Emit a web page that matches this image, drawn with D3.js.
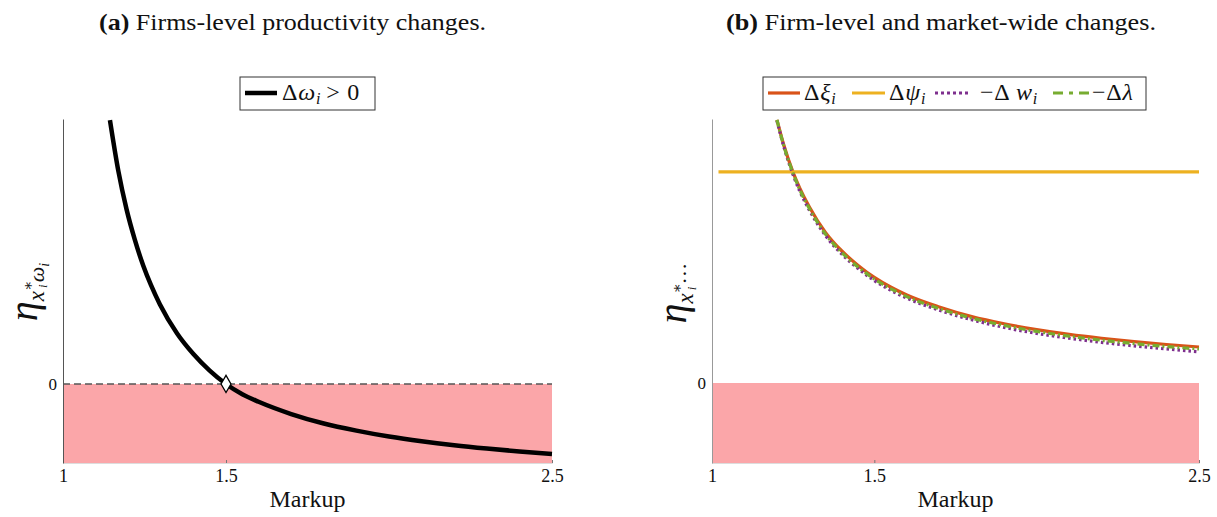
<!DOCTYPE html>
<html>
<head>
<meta charset="utf-8">
<script src="https://cdn.jsdelivr.net/npm/d3@7/dist/d3.min.js"></script>
<style>
  body { margin: 0; background: #fff; }
  text { font-family: "Liberation Serif", "DejaVu Serif", serif; fill: #111; }
</style>
</head>
<body>
<script>
// ---- data ----
const markupTicks = [1, 1.5, 2.5];
const markupTickLabels = ["1", "1.5", "2.5"];

// panel (a): elasticity wrt productivity
const omegaMarkup = [1.144, 1.17, 1.195, 1.22, 1.246, 1.27, 1.297, 1.35, 1.40, 1.45, 1.50,
                     1.55, 1.60, 1.70, 1.80, 1.90, 2.00, 2.10, 2.20, 2.30, 2.40, 2.50];
const omegaEta = [3.34, 2.69, 2.21, 1.83, 1.50, 1.25, 1.01, 0.64, 0.38, 0.17, 0,
                  -0.13, -0.225, -0.38, -0.50, -0.59, -0.665, -0.725, -0.775, -0.817, -0.854, -0.885];
const markerMarkup = [1.5];
const markerEta = [0];

// panel (b): firm-level and market-wide changes
const curveMarkup = [1.20, 1.22, 1.25, 1.27, 1.30, 1.35, 1.40, 1.45, 1.50, 1.55,
                     1.60, 1.70, 1.80, 1.90, 2.00, 2.10, 2.20, 2.30, 2.40, 2.50];
const xiEta = [3.29, 2.99, 2.63, 2.44, 2.20, 1.88, 1.65, 1.47, 1.32, 1.20,
               1.10, 0.95, 0.83, 0.74, 0.668, 0.608, 0.559, 0.517, 0.481, 0.45];
const lambdaEta = [3.29, 2.98, 2.62, 2.42, 2.18, 1.86, 1.63, 1.45, 1.30, 1.18,
                   1.08, 0.93, 0.81, 0.72, 0.645, 0.585, 0.535, 0.493, 0.456, 0.425];
const wEta = [3.28, 2.97, 2.60, 2.40, 2.16, 1.84, 1.61, 1.43, 1.28, 1.16,
              1.06, 0.91, 0.79, 0.695, 0.62, 0.56, 0.508, 0.464, 0.426, 0.39];
const psiMarkup = [1.02, 2.5];
const psiEta = [2.64, 2.64];

const pink = "#fba6a9";
const cRed = "#d95319", cOrange = "#edb120", cPurple = "#7e2f8e", cGreen = "#77ac30";

const svg = d3.select("body").append("svg")
  .attr("width", 1217).attr("height", 517)
  .attr("xmlns", "http://www.w3.org/2000/svg");

function panel(opt) {
  const g = svg.append("g");
  const x = d3.scaleLinear().domain([1, 2.5]).range([opt.x0, opt.x1]);
  const y = d3.scaleLinear().domain(opt.yDomain).range([463, 119]);

  // negative region
  g.append("rect")
    .attr("x", x(1)).attr("y", y(0))
    .attr("width", x(2.5) - x(1)).attr("height", y(opt.yDomain[0]) - y(0))
    .attr("fill", pink);

  // x axis (faint, mostly hidden under the shaded band)
  const xa = g.append("g").attr("transform", `translate(0,${y(opt.yDomain[0])})`)
    .call(d3.axisBottom(x).tickValues(markupTicks).tickSize(-3)
      .tickFormat((d, i) => markupTickLabels[i]));
  xa.select(".domain").attr("stroke", "#ddd");
  xa.selectAll(".tick line").attr("stroke", "#777");
  xa.selectAll(".tick text").attr("dy", 16).attr("font-size", 18)
    .attr("font-family", "Liberation Serif").attr("fill", "#222");

  // y axis
  const ya = g.append("g").attr("transform", `translate(${x(1)},0)`)
    .call(d3.axisLeft(y).tickValues([0]).tickSize(0).tickPadding(6).tickFormat(d3.format("d")));
  ya.select(".domain").attr("stroke", opt.axisColor);
  ya.selectAll(".tick text").attr("font-size", 17)
    .attr("font-family", "Liberation Serif").attr("fill", "#222");

  g.append("text").attr("x", (opt.x0 + opt.x1) / 2).attr("y", 507)
    .attr("text-anchor", "middle").attr("font-size", 24).text("Markup");

  return { g, x, y };
}

// ---- panel (a) ----
const A = panel({ x0: 63, x1: 552, yDomain: [-1, 3.354], axisColor: "#555" });
A.g.append("line")
  .attr("x1", A.x(1)).attr("x2", A.x(2.5)).attr("y1", A.y(0)).attr("y2", A.y(0))
  .attr("stroke", "#555").attr("stroke-width", 1.5).attr("stroke-dasharray", "7,4");
const lineA = d3.line().x((d, i) => A.x(omegaMarkup[i])).y(d => A.y(d)).curve(d3.curveMonotoneX);
A.g.append("path").attr("d", lineA(omegaEta))
  .attr("fill", "none").attr("stroke", "#000").attr("stroke-width", 4.5);
A.g.selectAll(".mk").data(markerEta).join("path")
  .attr("transform", (d, i) => `translate(${A.x(markerMarkup[i])},${A.y(d)})`)
  .attr("d", d3.symbol().type(d3.symbolDiamond).size(85))
  .attr("fill", "#fff").attr("stroke", "#000").attr("stroke-width", 1.3);

// ---- panel (b) ----
const B = panel({ x0: 712, x1: 1199, yDomain: [-1, 3.3], axisColor: "#999" });
const lineB = d3.line().x((d, i) => B.x(curveMarkup[i])).y(d => B.y(d)).curve(d3.curveMonotoneX);
const linePsi = d3.line().x((d, i) => B.x(psiMarkup[i])).y(d => B.y(d));
B.g.append("path").attr("d", lineB(xiEta)).attr("fill", "none")
  .attr("stroke", cRed).attr("stroke-width", 3.2);
B.g.append("path").attr("d", linePsi(psiEta)).attr("fill", "none")
  .attr("stroke", cOrange).attr("stroke-width", 3.2);
B.g.append("path").attr("d", lineB(wEta)).attr("fill", "none")
  .attr("stroke", cPurple).attr("stroke-width", 3.2).attr("stroke-dasharray", "2.5,3");
B.g.append("path").attr("d", lineB(lambdaEta)).attr("fill", "none")
  .attr("stroke", cGreen).attr("stroke-width", 3.2).attr("stroke-dasharray", "7,3,2,3");

// ---- titles ----
function title(x0, x1, tag, rest) {
  const t = svg.append("text").attr("x", x0).attr("y", 30)
    .attr("font-size", 24).attr("textLength", x1 - x0).attr("lengthAdjust", "spacingAndGlyphs");
  t.append("tspan").attr("font-weight", "bold").text(tag);
  t.append("tspan").text(" " + rest);
}
title(99, 486, "(a)", "Firms-level productivity changes.");
title(726, 1156, "(b)", "Firm-level and market-wide changes.");

// ---- y labels ----
function yLabel(cx, cy, tail) {
  const t = svg.append("text")
    .attr("transform", `translate(${cx},${cy}) rotate(-90)`)
    .attr("text-anchor", "middle").attr("font-style", "italic");
  t.append("tspan").attr("font-size", 40).text("η");
  t.append("tspan").attr("font-size", 23).attr("dy", 7).text("x");
  t.append("tspan").attr("font-size", 15).attr("dy", -11).attr("font-style", "normal").text("∗");
  t.append("tspan").attr("font-size", 13).attr("dx", -7).attr("dy", 14).text("i");
  tail(t);
}
yLabel(37, 292, t => {
  t.append("tspan").attr("font-size", 22).attr("dx", 2).attr("dy", -3).text("ω");
  t.append("tspan").attr("font-size", 14).attr("dy", 5).text("i");
});
yLabel(686, 293, t => {
  t.append("tspan").attr("font-size", 22).attr("dx", 2).attr("dy", -4)
    .attr("font-style", "normal").text("···");
});

// ---- legends ----
function legend(x0, x1, items) {
  const g = svg.append("g");
  g.append("rect").attr("x", x0).attr("y", 77).attr("width", x1 - x0).attr("height", 33)
    .attr("fill", "#fff").attr("stroke", "#333").attr("stroke-width", 1);
  items.forEach(it => {
    g.append("line").attr("x1", it.x).attr("x2", it.x + it.len)
      .attr("y1", 93).attr("y2", 93)
      .attr("stroke", it.color).attr("stroke-width", it.width)
      .attr("stroke-dasharray", it.dash || null);
    const t = g.append("text").attr("x", it.tx).attr("y", 100)
      .attr("font-size", 24).attr("letter-spacing", 0.8);
    it.label(t);
  });
}
const sub = (t, s) => t.append("tspan").attr("font-size", 16).attr("font-style", "italic")
  .attr("dy", 4).text(s);

legend(240, 375, [
  { x: 245, len: 32, tx: 282, color: "#000", width: 4.5, label: t => {
      t.append("tspan").text("Δ");
      t.append("tspan").attr("font-style", "italic").text("ω");
      sub(t, "i");
      t.append("tspan").attr("dy", -4).attr("dx", 5).text("> 0");
  } }
]);
legend(763, 1146, [
  { x: 768, len: 32, tx: 804, color: cRed, width: 3.2, label: t => {
      t.append("tspan").text("Δ");
      t.append("tspan").attr("font-style", "italic").text("ξ");
      sub(t, "i");
  } },
  { x: 852, len: 33, tx: 889, color: cOrange, width: 3.2, label: t => {
      t.append("tspan").text("Δ");
      t.append("tspan").attr("font-style", "italic").text("ψ");
      sub(t, "i");
  } },
  { x: 935, len: 36, tx: 980, color: cPurple, width: 3.2, dash: "3,3", label: t => {
      t.append("tspan").text("−Δ ");
      t.append("tspan").attr("font-style", "italic").text("w");
      sub(t, "i");
  } },
  { x: 1053, len: 36, tx: 1092, color: cGreen, width: 3.2, dash: "10,6,4,6", label: t => {
      t.append("tspan").text("−Δ");
      t.append("tspan").attr("font-style", "italic").text("λ");
  } }
]);
</script>
</body>
</html>
